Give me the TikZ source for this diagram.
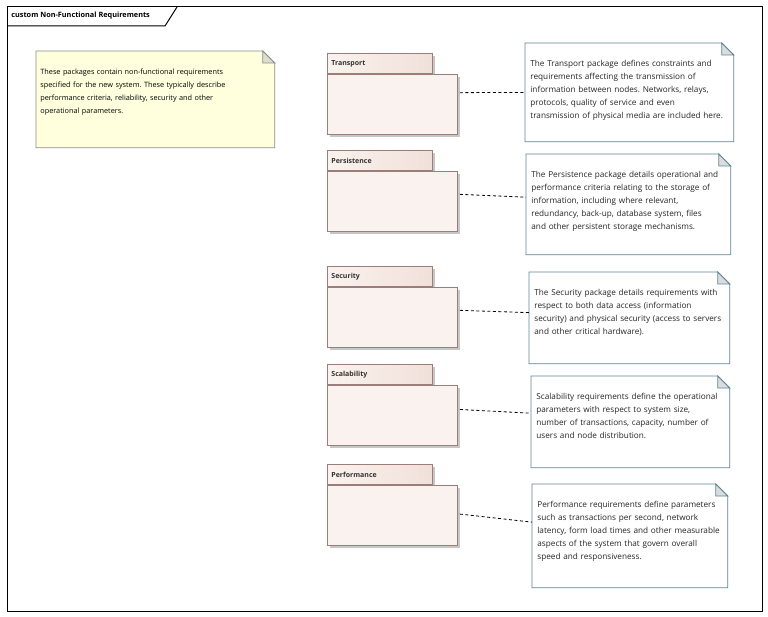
\documentclass[tikz,border=0pt]{standalone}
\usepackage{fontspec}
\setmainfont{Open Sans}
\frenchspacing
\usetikzlibrary{positioning,calc,shadows}

\definecolor{pkgline}{RGB}{155,126,122}
\definecolor{pkgfill}{RGB}{250,242,238}
\definecolor{pkgtabend}{RGB}{241,224,218}
\definecolor{noteline}{RGB}{96,132,148}
\definecolor{foldgray}{RGB}{218,221,222}
\definecolor{memofill}{RGB}{255,255,221}
\definecolor{memoline}{RGB}{140,140,140}
\definecolor{memofold}{RGB}{222,222,205}

% outline of a note with a folded corner: node, line colour, fill, fold fill
\newcommand{\dogear}[4]{%
  \filldraw[draw=#2, fill=#3] ($(#1.north east)+(-12,0)$) -- (#1.north west) -- (#1.south west)
    -- (#1.south east) -- ($(#1.north east)+(0,12)$) -- cycle;
  \filldraw[draw=#2, fill=#4] ($(#1.north east)+(-12,0)$) -- ($(#1.north east)+(-12,12)$)
    -- ($(#1.north east)+(0,12)$) -- cycle;
}

\begin{document}
\begin{tikzpicture}[x=1pt, y=-1pt, line width=0.8pt,
    pkgbody/.style={draw=pkgline, fill=pkgfill, minimum width=130, minimum height=60,
      drop shadow={shadow xshift=2.5pt, shadow yshift=-2.5pt, fill=black!22, opacity=1}},
    pkgtab/.style={draw=pkgline, left color=pkgfill, right color=pkgtabend, anchor=north west,
      text width=97, inner xsep=4, minimum height=20, align=left,
      font=\fontsize{7}{8}\selectfont\bfseries, text=black!80,
      drop shadow={shadow xshift=2.5pt, shadow yshift=-2.5pt, fill=black!22, opacity=1}},
    notebox/.style={draw=none, anchor=north west},
    notetext/.style={anchor=base west, inner sep=0, text width=200, align=left,
      font=\fontsize{8.2}{13}\selectfont, text=black!85},
    link/.style={dash pattern=on 3pt off 2.5pt, line width=0.8pt}]
    \useasboundingbox (0,0) rectangle (768,617);

    % Frame
    \draw[line width=1pt] (7,7) rectangle (762,611);
    \node[anchor=west, inner sep=0, font=\fontsize{7.3}{8}\selectfont\bfseries] (title) at (11,16) {custom Non-Functional Requirements};
    \draw[line width=1pt] (7,26) -- (165,26) -- (177,7);

    % General note
    \node[notebox, minimum width=238, minimum height=96] (memo) at (36,51) {};
    \dogear{memo}{memoline}{memofill}{memofold}
    \node[notetext, text=black, text width=230, font=\fontsize{7.3}{13}\selectfont] (memotext) at ($(memo.north west)+(4,23.5)$) {These packages contain non-functional requirements\\
      specified for the new system. These typically describe\\
      performance criteria, reliability, security and other\\
      operational parameters.};

    % Packages
    \node[pkgtab] (trtab) at (327,53) {Transport};
    \node[pkgbody, below right=0pt and 0pt of trtab.south west] (trbody) {};
    \node[pkgtab] (petab) at (327,150) {Persistence};
    \node[pkgbody, below right=0pt and 0pt of petab.south west] (pebody) {};
    \node[pkgtab] (setab) at (327,266) {Security};
    \node[pkgbody, below right=0pt and 0pt of setab.south west] (sebody) {};
    \node[pkgtab] (sctab) at (327,364) {Scalability};
    \node[pkgbody, below right=0pt and 0pt of sctab.south west] (scbody) {};
    \node[pkgtab] (pftab) at (327,464) {Performance};
    \node[pkgbody, below right=0pt and 0pt of pftab.south west] (pfbody) {};

    % Notes
    \node[notebox, minimum width=208, minimum height=98] (trnote) at (525,43) {};
    \dogear{trnote}{noteline}{white}{foldgray}
    \node[notetext] (trtext) at ($(trnote.north west)+(5,23.5)$) {The Transport package defines constraints and\\
      requirements affecting the transmission of\\
      information between nodes. Networks, relays,\\
      protocols, quality of service and even\\
      transmission of physical media are included here.};

    \node[notebox, minimum width=204, minimum height=100] (penote) at (526,154) {};
    \dogear{penote}{noteline}{white}{foldgray}
    \node[notetext] (petext) at ($(penote.north west)+(5,23.5)$) {The Persistence package details operational and\\
      performance criteria relating to the storage of\\
      information, including where relevant,\\
      redundancy, back-up, database system, files\\
      and other persistent storage mechanisms.};

    \node[notebox, minimum width=200, minimum height=91] (senote) at (529,272) {};
    \dogear{senote}{noteline}{white}{foldgray}
    \node[notetext] (setext) at ($(senote.north west)+(5,23.5)$) {The Security package details requirements with\\
      respect to both data access (information\\
      security) and physical security (access to servers\\
      and other critical hardware).};

    \node[notebox, minimum width=198, minimum height=91] (scnote) at (531,376) {};
    \dogear{scnote}{noteline}{white}{foldgray}
    \node[notetext] (sctext) at ($(scnote.north west)+(5,23.5)$) {Scalability requirements define the operational\\
      parameters with respect to system size,\\
      number of transactions, capacity, number of\\
      users and node distribution.};

    \node[notebox, minimum width=195, minimum height=103] (pfnote) at (532,484) {};
    \dogear{pfnote}{noteline}{white}{foldgray}
    \node[notetext] (pftext) at ($(pfnote.north west)+(5,23.5)$) {Performance requirements define parameters\\
      such as transactions per second, network\\
      latency, form load times and other measurable\\
      aspects of the system that govern overall\\
      speed and responsiveness.};

    % Links
    \draw[link] ($(trbody.10)+(2,0)$) -- (trnote.west);
    \draw[link] ($(pebody.6)+(2,0)$) -- (penote.176);
    \draw[link] ($(sebody.6)+(2,0)$) -- (senote.177);
    \draw[link] ($(scbody.5)+(2,0)$) -- (scnote.175);
    \draw[link] ($(pfbody.1.5)+(2,0)$) -- (pfnote.172);
\end{tikzpicture}
\end{document}
